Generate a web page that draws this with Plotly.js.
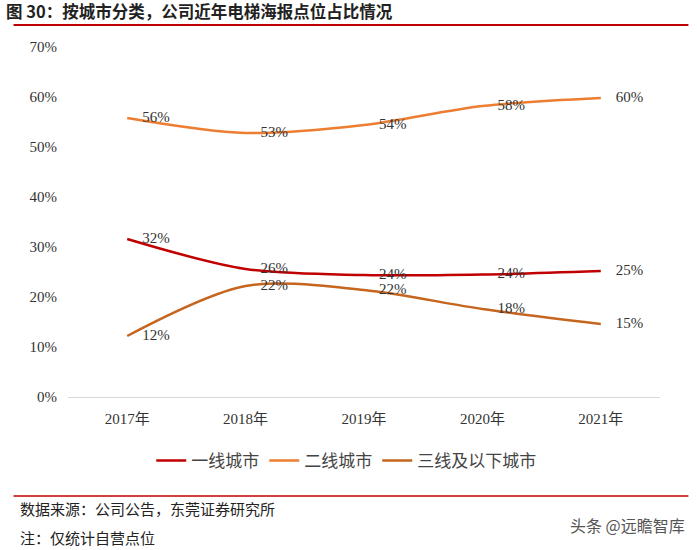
<!DOCTYPE html>
<html><head><meta charset="utf-8">
<script src="https://cdn.plot.ly/plotly-3.0.1.min.js"></script>
<style>body{margin:0;background:#fff}#chart{width:697px;height:550px}</style>
</head><body><div id="chart"></div>
<script>
var years = ['2017年','2018年','2019年','2020年','2021年'];
var tier1 = [0.316, 0.256, 0.244, 0.245, 0.252];
var tier1Labels = ['32%','26%','24%','24%','25%'];
var tier2 = [0.558, 0.528, 0.544, 0.582, 0.598];
var tier2Labels = ['56%','53%','54%','58%','60%'];
var tier3 = [0.122, 0.222, 0.214, 0.176, 0.146];
var tier3Labels = ['12%','22%','22%','18%','15%'];
var seriesNames = ['一线城市','二线城市','三线及以下城市'];
var colors = ['#C00000','#ED7D31','#C5651E'];
var yTicks = [0,0.1,0.2,0.3,0.4,0.5,0.6,0.7];

var serif = '"Liberation Serif", "Noto Sans CJK SC", serif';
function mk(name, y, txt, color){
  return {x: years, y: y, name: name, type:'scatter', mode:'lines+text',
    line:{color:color, width:2.5, shape:'spline', smoothing:0.9},
    text: txt.map(function(t){return '\u2002\u2002'+t;}), textposition:'middle right',
    textfont:{family:serif, size:15, color:'#333'},
    cliponaxis:false, hoverinfo:'skip'};
}
var data = [mk(seriesNames[0], tier1, tier1Labels, colors[0]),
            mk(seriesNames[1], tier2, tier2Labels, colors[1]),
            mk(seriesNames[2], tier3, tier3Labels, colors[2])];

var layout = {
  width:697, height:550, paper_bgcolor:'#fff', plot_bgcolor:'#fff',
  margin:{l:68, r:37, t:47, b:153},
  showlegend:true,
  legend:{orientation:'h', x:0.47, xanchor:'center', y:-0.183, yanchor:'middle',
    font:{family:'"Noto Sans CJK SC", serif', size:17, color:'#444'}, itemwidth:30, tracegroupgap:0},
  xaxis:{type:'category', range:[-0.5,4.5], showline:true, linecolor:'#d9d9d9', linewidth:1,
    ticks:'', showgrid:false, zeroline:false,
    tickfont:{family:serif, size:15, color:'#333'}, ticklabelstandoff:8},
  yaxis:{range:[0,0.7], tickvals:yTicks, tickformat:'.0%', showgrid:false, zeroline:false,
    showline:false, ticks:'', tickfont:{family:serif, size:15, color:'#333'}, ticklabelstandoff:10},
  shapes:[
    {type:'line', xref:'paper', yref:'paper', x0:-0.092, x1:1.048, y0:1.063, y1:1.063, line:{color:'#C00000', width:2}},
    {type:'line', xref:'paper', yref:'paper', x0:-0.092, x1:1.048, y0:-0.283, y1:-0.283, line:{color:'#C00000', width:1.5}}
  ],
  annotations:[
    {xref:'paper', yref:'paper', x:-0.107, y:1.14, xanchor:'left', yanchor:'top', showarrow:false, borderpad:0,
     text:'<b>图 30：按城市分类，公司近年电梯海报点位占比情况</b>', font:{family:'"Noto Sans CJK SC"', size:16.5, color:'#222'}},
    {xref:'paper', yref:'paper', x:-0.085, y:-0.318, xanchor:'left', yanchor:'middle', showarrow:false,
     text:'数据来源：公司公告，东莞证券研究所', font:{family:'"Noto Sans CJK SC"', size:15, color:'#222'}},
    {xref:'paper', yref:'paper', x:-0.085, y:-0.4, xanchor:'left', yanchor:'middle', showarrow:false,
     text:'注：仅统计自营点位', font:{family:'"Noto Sans CJK SC"', size:15, color:'#222'}},
    {xref:'paper', yref:'paper', x:1.045, y:-0.365, xanchor:'right', yanchor:'middle', showarrow:false,
     text:'头条 @远瞻智库', font:{family:'"Noto Sans CJK SC"', size:16, color:'#555'}}
  ]
};
Plotly.newPlot('chart', data, layout, {displayModeBar:false, staticPlot:true});
</script></body></html>
